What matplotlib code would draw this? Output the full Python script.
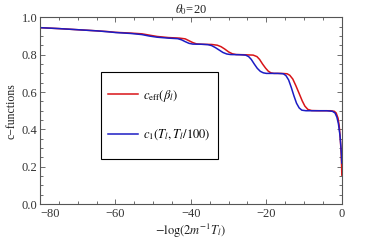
import numpy as np
import matplotlib
matplotlib.use("Agg")
import matplotlib.pyplot as plt
from matplotlib.ticker import MultipleLocator, FormatStrFormatter
from matplotlib.patches import Rectangle

plt.rcParams['font.family'] = ['Liberation Serif', 'DejaVu Serif']
plt.rcParams['mathtext.fontset'] = 'stix'

# values
x_red = [-80, -75, -70, -65, -62, -60, -56, -53, -51, -49, -46, -43, -41.5, -40.5, -39.5,
         -38.5, -37, -34.5, -33, -32, -31, -30, -29, -28, -26, -23.5, -22.5, -21.8, -21,
         -20.2, -19.5, -18.8, -18, -16, -14.5, -13.8, -13, -12.2, -11.3, -10.5, -9.8, -9,
         -8, -6, -3, -2, -1.5, -1, -0.7, -0.4, -0.2, -0.05, 0]
y_red = [0.945, 0.940, 0.934, 0.928, 0.924, 0.920, 0.916, 0.912, 0.905, 0.898, 0.892,
         0.889, 0.885, 0.875, 0.865, 0.858, 0.856, 0.855, 0.851, 0.843, 0.830, 0.815,
         0.805, 0.801, 0.800, 0.798, 0.790, 0.775, 0.750, 0.728, 0.712, 0.703, 0.700,
         0.700, 0.698, 0.690, 0.670, 0.635, 0.592, 0.553, 0.525, 0.507, 0.501, 0.500,
         0.500, 0.497, 0.488, 0.460, 0.420, 0.350, 0.280, 0.200, 0.155]

x_blue = [-80, -75, -70, -65, -62, -60, -56, -53, -51, -49, -46, -43.5, -42.5, -41.5, -40.5,
          -39.5, -37, -35.5, -34.5, -33.5, -32.5, -31.5, -30.5, -29.5, -27, -25.5, -24.7,
          -24, -23.2, -22.4, -21.6, -20.8, -20, -17, -15.5, -14.8, -14.1, -13.4, -12.7,
          -12, -11.3, -10.6, -9.5, -4, -2.5, -1.8, -1.3, -0.9, -0.5, -0.25, -0.08, 0]
y_blue = [0.945, 0.940, 0.934, 0.928, 0.923, 0.919, 0.914, 0.908, 0.900, 0.894, 0.889,
          0.886, 0.880, 0.870, 0.861, 0.857, 0.856, 0.854, 0.849, 0.838, 0.825, 0.812,
          0.804, 0.801, 0.800, 0.798, 0.790, 0.775, 0.750, 0.727, 0.711, 0.703, 0.700,
          0.700, 0.698, 0.688, 0.665, 0.625, 0.580, 0.540, 0.515, 0.503, 0.500, 0.500,
          0.497, 0.488, 0.465, 0.430, 0.370, 0.310, 0.260, 0.220]

x_ticks = [-80, -60, -40, -20, 0]
x_ticklabels = ['\u221280', '\u221260', '\u221240', '\u221220', '0']

fig = plt.figure(figsize=(3.92, 2.45), dpi=100)
ax = fig.add_axes([0.102, 0.167, 0.77, 0.762])

ax.plot(x_red, y_red, color='#d81418', lw=1.1, label=r'$c_{\rm eff}(\beta_l)$')
ax.plot(x_blue, y_blue, color='#1c1cc4', lw=1.1, label=r'$c_1(T_l,T_l/100)$')

ax.set_xlim(-80, 0)
ax.set_ylim(0, 1)
ax.set_xticks(x_ticks)
ax.set_xticklabels(x_ticklabels)
ax.xaxis.set_minor_locator(MultipleLocator(5))
ax.yaxis.set_major_locator(MultipleLocator(0.2))
ax.yaxis.set_minor_locator(MultipleLocator(0.05))
ax.yaxis.set_major_formatter(FormatStrFormatter('%.1f'))

ax.tick_params(which='both', direction='in', top=True, right=True,
               colors='#555555', labelcolor='#333333', labelsize=9, width=0.6)
ax.tick_params(which='major', length=3.5, pad=2)
ax.tick_params(axis='x', which='major', pad=3)
ax.tick_params(which='minor', length=2)
for s in ax.spines.values():
    s.set_color('#555555')
    s.set_linewidth(0.8)

# first x label sits to the right of its tick, clear of the "0.0"
for lab in ax.get_xticklabels()[:1]:
    lab.set_horizontalalignment('left')

ax.set_title(r'$\theta_0$=20', fontsize=9, pad=3, color='#222222')
ax.set_xlabel(r'$-\log(2m^{-1}T_l)$', fontsize=9, labelpad=1, color='#222222')
ax.set_ylabel('c\u2212functions', fontsize=8.5, labelpad=3, color='#222222')

# legend frame drawn by hand so the padding can differ per side
ax.add_patch(Rectangle((0.202, 0.241), 0.387, 0.466, transform=ax.transAxes,
                       fill=False, edgecolor='black', lw=0.8, zorder=5))
leg = ax.legend(loc='center left', bbox_to_anchor=(0.225, 0.477), fontsize=9,
                frameon=False, handlelength=2.4, labelspacing=1.9,
                borderpad=0, borderaxespad=0, handletextpad=0.4)

fig.savefig('out.png', dpi=100)
